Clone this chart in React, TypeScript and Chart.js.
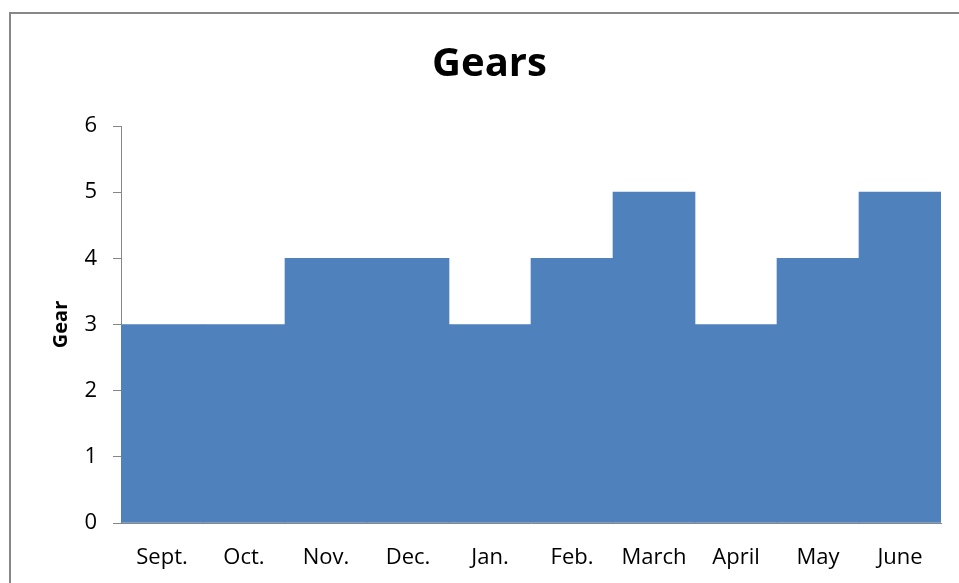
import React, { useEffect, useRef } from "react";
import { Chart, registerables } from "chart.js";

Chart.register(...registerables);

const months = ["Sept.", "Oct.", "Nov.", "Dec.", "Jan.", "Feb.", "March", "April", "May", "June"];
const gears = [3, 3, 4, 4, 3, 4, 5, 3, 4, 5];
const chartTitle = "Gears";
const yTitle = "Gear";

const FONT = "'Open Sans', 'Liberation Sans', sans-serif";

export default function App() {
  const ref = useRef<HTMLCanvasElement | null>(null);

  useEffect(() => {
    document.body.style.margin = "0";
    const ctx = ref.current;
    if (!ctx) return;
    const chart = new Chart(ctx, {
      type: "bar",
      data: {
        labels: months,
        datasets: [
          {
            label: yTitle,
            data: gears,
            backgroundColor: "#4F81BD",
            borderWidth: 0,
            barPercentage: 1,
            categoryPercentage: 1,
          },
        ],
      },
      options: {
        animation: false,
        responsive: false,
        maintainAspectRatio: false,
        layout: { padding: { left: 38, right: 18, top: 0, bottom: 0 } },
        plugins: {
          legend: { display: false },
          tooltip: { enabled: false },
          title: {
            display: true,
            text: chartTitle,
            color: "#000",
            font: { family: FONT, size: 40, weight: "bold", lineHeight: 1.2 },
            padding: { top: 41, bottom: 37 },
          },
        },
        scales: {
          x: {
            grid: { display: true, drawOnChartArea: false, drawTicks: false },
            border: { display: true, color: "#868686", width: 1 },
            ticks: {
              color: "#000",
              font: { family: FONT, size: 22 },
              padding: 22,
              maxRotation: 0,
              autoSkip: false,
            },
            afterFit: (s: any) => {
              s.height = 60;
            },
          },
          y: {
            min: 0,
            max: 6,
            grid: { display: true, drawOnChartArea: false, drawTicks: true, tickLength: 8, color: "#868686" },
            border: { display: true, color: "#868686", width: 1 },
            ticks: {
              stepSize: 1,
              color: "#000",
              font: { family: FONT, size: 22 },
              padding: 16,
            },
            title: {
              display: true,
              text: yTitle,
              color: "#000",
              font: { family: FONT, size: 20, weight: "bold", lineHeight: 1.2 },
              padding: { top: 11, bottom: 0 },
            },
            afterFit: (s: any) => {
              s.width = 83;
            },
          },
        },
      },
    });
    return () => chart.destroy();
  }, []);

  return (
    <div style={{ position: "relative", width: 959, height: 583, overflow: "hidden", background: "#fff" }}>
      <canvas ref={ref} width={959} height={583} style={{ position: "absolute", left: 0, top: 0, width: 959, height: 583 }} />
      <div
        style={{
          position: "absolute",
          left: 9,
          top: 12,
          width: 1100,
          height: 700,
          borderTop: "2px solid #878787",
          borderLeft: "2px solid #878787",
          pointerEvents: "none",
        }}
      />
    </div>
  );
}
